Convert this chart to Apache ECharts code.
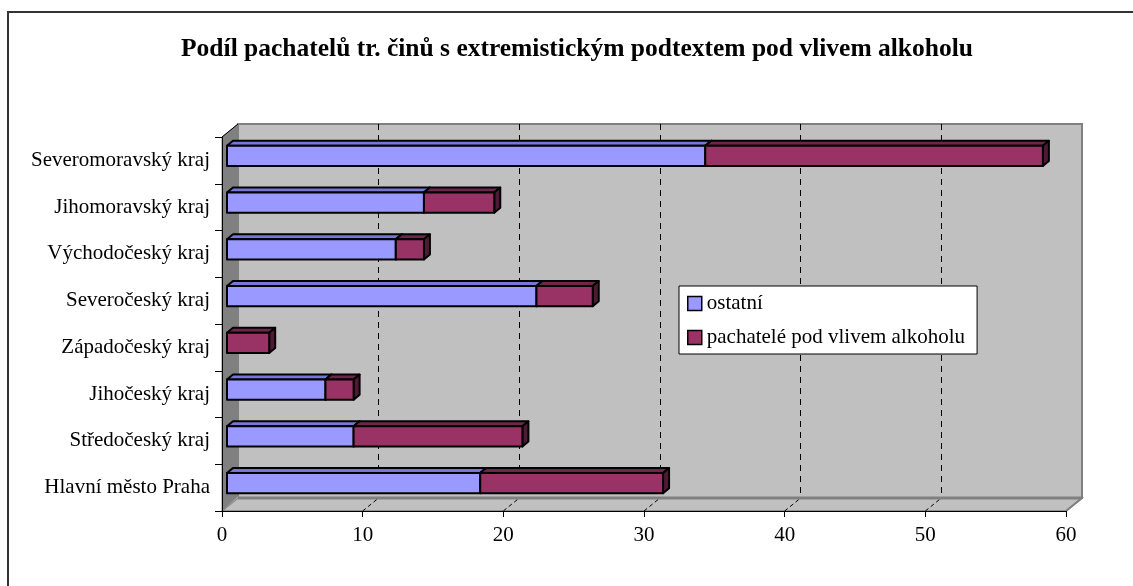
<!DOCTYPE html>
<html>
<head>
<meta charset="utf-8">
<script src="https://cdn.jsdelivr.net/npm/echarts@6/dist/echarts.min.js"></script>
<style>html,body{margin:0;padding:0;background:#fff}#c{width:1133px;height:586px}</style>
</head>
<body>
<div id="c"></div>
<script>
const titleText = 'Podíl pachatelů tr. činů s extremistickým podtextem pod vlivem alkoholu';
const categories = ['Hlavní město Praha', 'Středočeský kraj', 'Jihočeský kraj', 'Západočeský kraj',
  'Severočeský kraj', 'Východočeský kraj', 'Jihomoravský kraj', 'Severomoravský kraj'];
const seriesNames = ['ostatní', 'pachatelé pod vlivem alkoholu'];
const ostatni = [18, 9, 7, 0, 22, 12, 14, 34];
const alkohol = [13, 12, 2, 3, 4, 2, 5, 24];
const xMin = 0, xMax = 60, xStep = 10;

const FONT = 'Liberation Serif';
const W = 1133, H = 586;
const FRONT = { left: 222, top: 137, right: 1066, bottom: 511 };
const DEPTH = { dx: 16, dy: -13 };
const BACK = { left: FRONT.left + DEPTH.dx, top: FRONT.top + DEPTH.dy, right: FRONT.right + DEPTH.dx, bottom: FRONT.bottom + DEPTH.dy };

const colors = [
  { front: '#9999FF', top: '#7777D9', side: '#5C5CB8' },
  { front: '#993366', top: '#70254B', side: '#4F1A35' }
];

const dataOst = ostatni.map((v, i) => [i, 0, v]);
const dataAlk = alkohol.map((v, i) => [i, ostatni[i], ostatni[i] + v]);

function makeRender(ci) {
  return function (params, api) {
    const cat = api.value(0), s = api.value(1), e = api.value(2);
    if (!(e > s)) return;
    const p0 = api.coord([s, cat]), p1 = api.coord([e, cat]);
    const band = api.size([0, 1])[1];
    const h = band * 0.43;
    const ox = 5, oy = -4.5, dx = 6, dy = -5;
    const x0 = p0[0] + ox, x1 = p1[0] + ox;
    const yt = p0[1] + oy - h / 2, yb = yt + h;
    const c = colors[ci];
    const st = { stroke: '#000', lineWidth: 2, lineJoin: 'round' };
    return {
      type: 'group',
      children: [
        { type: 'polygon', shape: { points: [[x0, yt], [x0 + dx, yt + dy], [x1 + dx, yt + dy], [x1, yt]] },
          style: Object.assign({ fill: c.top }, st) },
        { type: 'polygon', shape: { points: [[x1, yt], [x1 + dx, yt + dy], [x1 + dx, yb + dy], [x1, yb]] },
          style: Object.assign({ fill: c.side }, st) },
        { type: 'rect', shape: { x: x0, y: yt, width: x1 - x0, height: h },
          style: Object.assign({ fill: c.front }, st) }
      ]
    };
  };
}

const chart = echarts.init(document.getElementById('c'), null, { renderer: 'canvas' });
chart.setOption({
  animation: false,
  backgroundColor: '#fff',
  color: [colors[0].front, colors[1].front],
  title: {
    text: titleText, left: 572, top: 31, textAlign: 'center',
    textStyle: { fontFamily: FONT, fontSize: 25.5, fontWeight: 'bold', color: '#000' }
  },
  legend: {
    orient: 'vertical', left: 679, top: 286,
    backgroundColor: '#fff', borderColor: '#000', borderWidth: 1,
    padding: [7, 12, 6, 8], itemGap: 13, itemWidth: 14, itemHeight: 14,
    icon: 'rect',
    itemStyle: { borderColor: '#000', borderWidth: 1.5 },
    textStyle: { fontFamily: FONT, fontSize: 21, color: '#000', lineHeight: 21 },
    data: seriesNames
  },
  grid: [
    { left: FRONT.left, top: FRONT.top, width: FRONT.right - FRONT.left, height: FRONT.bottom - FRONT.top, containLabel: false },
    { left: BACK.left, top: BACK.top, width: BACK.right - BACK.left, height: BACK.bottom - BACK.top, containLabel: false,
      show: true, backgroundColor: '#C0C0C0', borderColor: '#808080', borderWidth: 2 }
  ],
  xAxis: [
    { type: 'value', gridIndex: 0, min: xMin, max: xMax, interval: xStep, z: 5,
      axisLine: { show: true, lineStyle: { color: '#000', width: 1 } },
      axisTick: { show: true, length: 6, lineStyle: { color: '#000' } },
      axisLabel: { fontFamily: FONT, fontSize: 21, color: '#000', margin: 14 },
      splitLine: { show: false } },
    { type: 'value', gridIndex: 1, min: xMin, max: xMax, interval: xStep, z: 1,
      axisLine: { show: false }, axisTick: { show: false }, axisLabel: { show: false },
      splitLine: { show: true, showMinLine: false, showMaxLine: false, lineStyle: { color: '#000', width: 1, type: [6, 5] } } }
  ],
  yAxis: [
    { type: 'category', gridIndex: 0, data: categories, z: 5,
      axisLine: { show: true, lineStyle: { color: '#000', width: 1 } },
      axisTick: { show: true, length: 7, lineStyle: { color: '#000' } },
      axisLabel: { fontFamily: FONT, fontSize: 21, color: '#000', margin: 12 } },
    { type: 'category', gridIndex: 1, data: categories, show: false }
  ],
  series: [
    { name: seriesNames[0], type: 'custom', xAxisIndex: 0, yAxisIndex: 0, z: 10,
      itemStyle: { color: colors[0].front }, encode: { x: [1, 2], y: 0 },
      renderItem: makeRender(0), data: dataOst },
    { name: seriesNames[1], type: 'custom', xAxisIndex: 0, yAxisIndex: 0, z: 11,
      itemStyle: { color: colors[1].front }, encode: { x: [1, 2], y: 0 },
      renderItem: makeRender(1), data: dataAlk }
  ]
});

// 3D walls derived from axis geometry
const gfx = [];
const fx = v => chart.convertToPixel({ xAxisIndex: 0 }, v);
const L = fx(xMin), R = fx(xMax);
gfx.push({ type: 'polygon', z: 2, shape: { points: [[L, FRONT.top], [L + DEPTH.dx, BACK.top], [L + DEPTH.dx, BACK.bottom], [L, FRONT.bottom]] },
  style: { fill: '#808080', stroke: '#808080', lineWidth: 1 } });
gfx.push({ type: 'polygon', z: 2, shape: { points: [[L, FRONT.bottom], [L + DEPTH.dx, BACK.bottom], [R + DEPTH.dx, BACK.bottom], [R, FRONT.bottom]] },
  style: { fill: '#C0C0C0', stroke: '#808080', lineWidth: 1.5 } });
gfx.push({ type: 'line', z: 3, shape: { x1: L + DEPTH.dx, y1: BACK.bottom, x2: R + DEPTH.dx, y2: BACK.bottom }, style: { stroke: '#808080', lineWidth: 3 } });
gfx.push({ type: 'polygon', z: 3, shape: { points: [[L, FRONT.bottom], [L + DEPTH.dx, BACK.bottom], [L + DEPTH.dx, BACK.bottom - 2], [L, FRONT.bottom]] },
  style: { fill: '#A0A0A0' } });
for (let v = xMin + xStep; v < xMax; v += xStep) {
  const x = fx(v);
  gfx.push({ type: 'line', z: 3, shape: { x1: x, y1: FRONT.bottom, x2: x + DEPTH.dx, y2: BACK.bottom },
    style: { stroke: '#000', lineWidth: 1, lineDash: [4, 3] } });
}
gfx.push({ type: 'line', z: 3, shape: { x1: L, y1: FRONT.top, x2: L + DEPTH.dx, y2: BACK.top }, style: { stroke: '#000', lineWidth: 1 } });
gfx.push({ type: 'line', z: 3, shape: { x1: R, y1: FRONT.bottom, x2: R + DEPTH.dx, y2: BACK.bottom }, style: { stroke: '#808080', lineWidth: 2 } });
gfx.push({ type: 'rect', z: 0, silent: true, shape: { x: 8, y: 12, width: W + 20, height: H + 20 },
  style: { fill: 'none', stroke: '#333', lineWidth: 2 } });
chart.setOption({ graphic: gfx });
</script>
</body>
</html>
